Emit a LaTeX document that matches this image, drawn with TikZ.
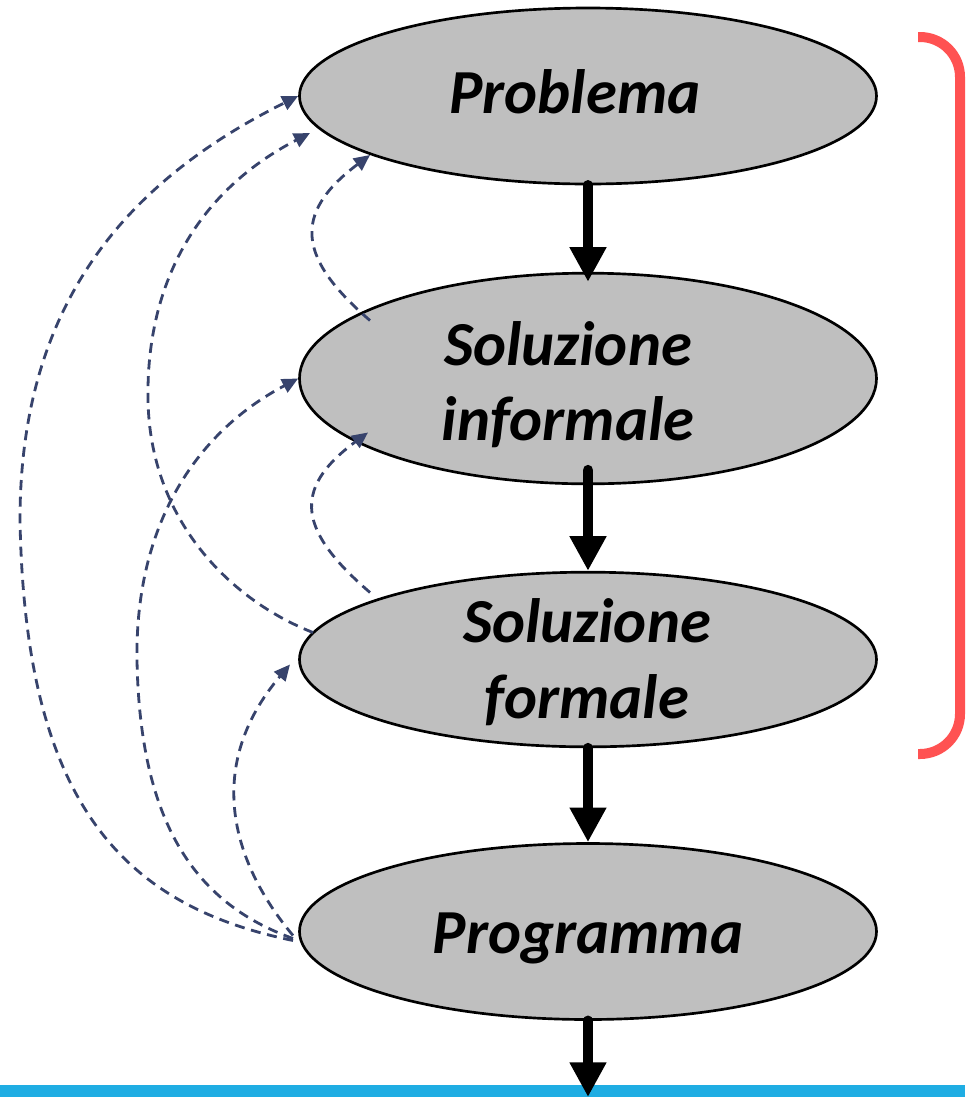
\documentclass[tikz,border=0pt]{standalone}
\usepackage{fontspec}
\setmainfont{Carlito}
\usetikzlibrary{arrows.meta,shapes.geometric,calc}
\definecolor{dashblue}{RGB}{55,67,108}
\definecolor{bracketred}{RGB}{255,82,82}
\definecolor{barblue}{RGB}{31,173,227}
\definecolor{ellgray}{RGB}{191,191,191}
\tikzset{
  stage/.style={ellipse, draw=black, line width=2pt, fill=ellgray, inner sep=0pt, minimum width=432.75pt},
  lbltext/.style={anchor=base, inner sep=0pt, font=\fontsize{47}{56}\selectfont\bfseries\itshape},
  flow/.style={line width=8pt, line cap=round, -{Triangle[width=26pt,length=26pt]}},
  back/.style={dashblue, line width=2.1pt, dash pattern=on 7.5pt off 5pt, -{Triangle[width=11pt,length=12pt]}},
}
\begin{document}
\begin{tikzpicture}[x=0.75pt,y=-0.75pt]
\useasboundingbox (0,0) rectangle (965,1097);
% bottom bar
\fill[barblue] (0,1085) rectangle (965,1097);
% bracket
\draw[bracketred, line width=7.5pt, rounded corners=30pt] (918,37) -- (960,37) -- (960,754) -- (918,754);
% stages
\node[stage, minimum height=132pt] (prob) at (588,96) {};
\node[stage, minimum height=158pt] (inf) at (588,378.5) {};
\node[stage, minimum height=131pt] (form) at (588,659.5) {};
\node[stage, minimum height=132pt] (prog) at (588,931.5) {};
% texts
\node[lbltext] (tprob) at (575,113) {Problema};
\node[lbltext] (tinfa) at (568,365) {Soluzione};
\node[lbltext] (tinfb) at (568,440) {informale};
\node[lbltext] (tforma) at (587,642) {Soluzione};
\node[lbltext] (tformb) at (587,718) {formale};
\node[lbltext] (tprog) at (588,953) {Programma};
% forward flow
\coordinate (out) at (588,1097);
\draw[flow] (prob.south) -- ($(inf.north)+(0,10)$);
\draw[flow] ($(inf.south)+(0,-15)$) -- (form.north);
\draw[flow] (form.south) -- (prog.north);
\draw[flow] (prog.south) -- (out);
% feedback
\draw[back] ($(prog.center)+(-295,9)$) .. controls (120,905) and (25,800) .. (20,520)
  .. controls (20,300) and (130,180) .. (prob.west);
\draw[back] ($(form.center)+(-275,-27)$) .. controls (230,600) and (150,520) .. (148,400)
  .. controls (146,280) and (200,190) .. ($(prob.center)+(-278,37)$);
\draw[back] ($(prog.center)+(-295,7)$) .. controls (200,905) and (140,830) .. (137,660)
  .. controls (135,520) and (200,430) .. (inf.west);
\draw[back] ($(inf.center)+(-218,-58)$) .. controls (300,260) and (290,215) .. ($(prob.center)+(-218,59)$);
\draw[back] ($(form.center)+(-218,-67)$) .. controls (300,532) and (290,490) .. ($(inf.center)+(-220,54)$);
\draw[back] ($(prog.center)+(-295,4)$) .. controls (230,860) and (205,765) .. ($(form.center)+(-298,5)$);
\end{tikzpicture}
\end{document}
